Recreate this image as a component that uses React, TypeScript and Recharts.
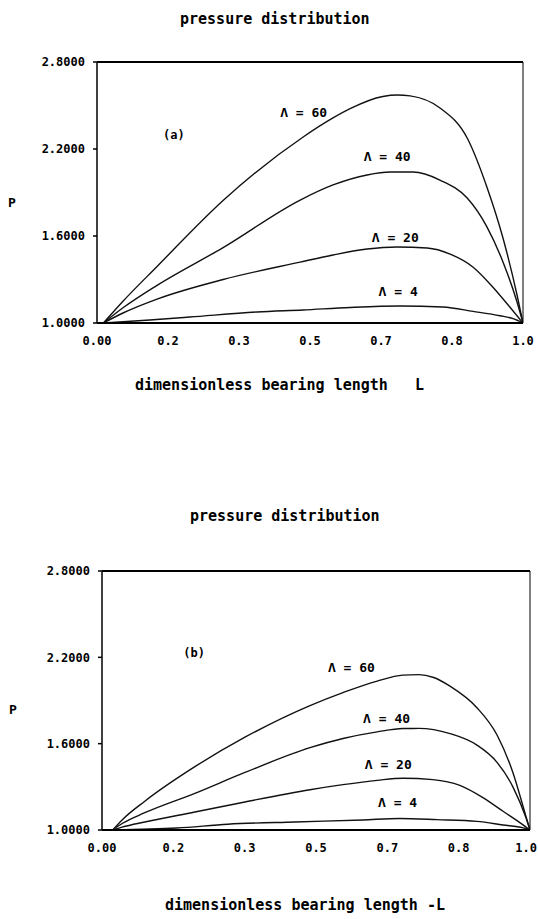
import React from 'react';
import { LineChart, Line, XAxis, YAxis, ReferenceLine, ReferenceDot } from 'recharts';

// bearing length positions (1/6 steps) and the printed tick labels
const xTicks = [0, 0.1667, 0.3333, 0.5, 0.6667, 0.8333, 1];
const xTickLabels = ['0.00', '0.2', '0.3', '0.5', '0.7', '0.8', '1.0'];
const yTicks = [1.0, 1.6, 2.2, 2.8];

// panel (a)
const lambda60A = [
  { L: 0.015, P: 1.0 }, { L: 0.061, P: 1.15 }, { L: 0.141, P: 1.39 }, { L: 0.296, P: 1.845 },
  { L: 0.484, P: 2.283 }, { L: 0.554, P: 2.414 }, { L: 0.594, P: 2.478 }, { L: 0.671, P: 2.562 },
  { L: 0.705, P: 2.572 }, { L: 0.735, P: 2.566 }, { L: 0.805, P: 2.483 }, { L: 0.869, P: 2.276 },
  { L: 0.915, P: 1.94 }, { L: 0.953, P: 1.586 }, { L: 0.986, P: 1.193 }, { L: 1.0, P: 1.0 },
];
const lambda40A = [
  { L: 0.015, P: 1.0 }, { L: 0.061, P: 1.105 }, { L: 0.141, P: 1.26 }, { L: 0.296, P: 1.52 },
  { L: 0.477, P: 1.848 }, { L: 0.554, P: 1.952 }, { L: 0.634, P: 2.021 }, { L: 0.688, P: 2.041 },
  { L: 0.742, P: 2.041 }, { L: 0.805, P: 1.986 }, { L: 0.869, P: 1.862 }, { L: 0.915, P: 1.665 },
  { L: 0.953, P: 1.421 }, { L: 0.986, P: 1.145 }, { L: 1.0, P: 1.0 },
];
const lambda20A = [
  { L: 0.015, P: 1.0 }, { L: 0.061, P: 1.069 }, { L: 0.141, P: 1.165 }, { L: 0.296, P: 1.3 },
  { L: 0.477, P: 1.42 }, { L: 0.554, P: 1.469 }, { L: 0.634, P: 1.51 }, { L: 0.704, P: 1.524 },
  { L: 0.775, P: 1.517 }, { L: 0.829, P: 1.475 }, { L: 0.883, P: 1.385 }, { L: 0.93, P: 1.245 },
  { L: 0.969, P: 1.11 }, { L: 1.0, P: 1.0 },
];
const lambda4A = [
  { L: 0.015, P: 1.0 }, { L: 0.124, P: 1.021 }, { L: 0.218, P: 1.041 }, { L: 0.376, P: 1.076 },
  { L: 0.484, P: 1.09 }, { L: 0.594, P: 1.107 }, { L: 0.711, P: 1.117 }, { L: 0.812, P: 1.11 },
  { L: 0.883, P: 1.08 }, { L: 0.946, P: 1.05 }, { L: 0.977, P: 1.03 }, { L: 1.0, P: 1.0 },
];
const tagsA = [
  { L: 0.43, P: 2.455, text: 'Λ = 60' },
  { L: 0.626, P: 2.145, text: 'Λ = 40' },
  { L: 0.645, P: 1.593, text: 'Λ = 20' },
  { L: 0.661, P: 1.214, text: 'Λ = 4' },
  { L: 0.155, P: 2.297, text: '(a)' },
];

// panel (b)
const lambda60B = [
  { L: 0.025, P: 1.0 }, { L: 0.047, P: 1.07 }, { L: 0.1, P: 1.2 }, { L: 0.217, P: 1.44 },
  { L: 0.334, P: 1.645 }, { L: 0.486, P: 1.865 }, { L: 0.563, P: 1.955 }, { L: 0.643, P: 2.035 },
  { L: 0.703, P: 2.076 }, { L: 0.74, P: 2.08 }, { L: 0.775, P: 2.06 }, { L: 0.813, P: 2.0 },
  { L: 0.876, P: 1.85 }, { L: 0.923, P: 1.66 }, { L: 0.96, P: 1.4 }, { L: 0.99, P: 1.1 },
  { L: 1.0, P: 1.0 },
];
const lambda40B = [
  { L: 0.025, P: 1.0 }, { L: 0.047, P: 1.045 }, { L: 0.1, P: 1.12 }, { L: 0.217, P: 1.255 },
  { L: 0.334, P: 1.4 }, { L: 0.486, P: 1.572 }, { L: 0.563, P: 1.636 }, { L: 0.643, P: 1.682 },
  { L: 0.703, P: 1.705 }, { L: 0.74, P: 1.706 }, { L: 0.813, P: 1.67 }, { L: 0.876, P: 1.59 },
  { L: 0.923, P: 1.47 }, { L: 0.96, P: 1.3 }, { L: 0.99, P: 1.09 }, { L: 1.0, P: 1.0 },
];
const lambda20B = [
  { L: 0.025, P: 1.0 }, { L: 0.047, P: 1.02 }, { L: 0.1, P: 1.056 }, { L: 0.217, P: 1.125 },
  { L: 0.334, P: 1.195 }, { L: 0.486, P: 1.28 }, { L: 0.563, P: 1.315 }, { L: 0.643, P: 1.345 },
  { L: 0.703, P: 1.36 }, { L: 0.773, P: 1.35 }, { L: 0.836, P: 1.31 }, { L: 0.89, P: 1.225 },
  { L: 0.937, P: 1.13 }, { L: 0.977, P: 1.05 }, { L: 1.0, P: 1.0 },
];
const lambda4B = [
  { L: 0.025, P: 1.0 }, { L: 0.175, P: 1.014 }, { L: 0.294, P: 1.04 }, { L: 0.451, P: 1.056 },
  { L: 0.61, P: 1.07 }, { L: 0.696, P: 1.08 }, { L: 0.783, P: 1.072 }, { L: 0.876, P: 1.06 },
  { L: 0.937, P: 1.035 }, { L: 0.984, P: 1.015 }, { L: 1.0, P: 1.0 },
];
const tagsB = [
  { L: 0.528, P: 2.126, text: 'Λ = 60' },
  { L: 0.61, P: 1.778, text: 'Λ = 40' },
  { L: 0.614, P: 1.452, text: 'Λ = 20' },
  { L: 0.645, P: 1.188, text: 'Λ = 4' },
  { L: 0.19, P: 2.23, text: '(b)' },
];

const mono = '"DejaVu Sans Mono", monospace';
const tickStyle = { fontFamily: mono, fontSize: 12, fontWeight: 'bold' as const, fill: '#000' };

type Pt = { L: number; P: number };
type Tag = Pt & { text: string };

// x tick label; the last one is kept inside the page edge
const XTick = (props: any) => {
  const { x, y, payload } = props;
  const label = xTickLabels[xTicks.indexOf(payload.value)];
  const anchor = x > 527 ? 'end' : 'middle';
  return (
    <text x={anchor === 'end' ? 537 : x} y={y + 22} textAnchor={anchor} {...tickStyle}>
      {label}
    </text>
  );
};

interface PanelProps {
  series: Pt[][];
  tags: Tag[];
  height: number;
  yAxisWidth: number;
  margin: { top: number; right: number; bottom: number; left: number };
}

const Panel: React.FC<PanelProps> = ({ series, tags, height, yAxisWidth, margin }) => (
  <LineChart width={538} height={height} margin={margin}>
    <XAxis
      dataKey="L"
      type="number"
      domain={[0, 1]}
      ticks={xTicks}
      tickLine={false}
      tickMargin={0}
      tickSize={0}
      height={30}
      axisLine={{ stroke: '#000', strokeWidth: 2 }}
      tick={<XTick />}
      interval={0}
      allowDataOverflow
    />
    <YAxis
      type="number"
      domain={[1, 2.8]}
      ticks={yTicks}
      tickFormatter={(v: number) => v.toFixed(4)}
      width={yAxisWidth}
      tickSize={4}
      tickMargin={8}
      tickLine={{ stroke: '#000', strokeWidth: 1.5 }}
      axisLine={{ stroke: '#000', strokeWidth: 1.5 }}
      tick={tickStyle}
      interval={0}
    />
    <ReferenceLine y={2.8} stroke="#000" strokeWidth={2} />
    <ReferenceLine x={1} stroke="#000" strokeWidth={1} />
    {series.map((d, i) => (
      <Line
        key={i}
        data={d}
        dataKey="P"
        type="monotone"
        stroke="#111"
        strokeWidth={1.4}
        dot={false}
        isAnimationActive={false}
      />
    ))}
    {tags.map((t) => (
      <ReferenceDot
        key={t.text}
        x={t.L}
        y={t.P}
        r={0}
        shape={(p: any) => (
          <text
            x={p.cx}
            y={p.cy}
            dominantBaseline="central"
            fontFamily={mono}
            fontSize={t.text.startsWith('(') ? 12 : 13}
            fontWeight="bold"
            fill="#000"
          >
            {t.text}
          </text>
        )}
      />
    ))}
  </LineChart>
);

const textStyle: React.CSSProperties = {
  position: 'absolute',
  fontFamily: mono,
  fontWeight: 'bold',
  fontSize: 15,
  lineHeight: '16px',
  whiteSpace: 'pre',
  color: '#000',
};

export default function App() {
  return (
    <div style={{ position: 'relative', width: 538, height: 919, background: '#fff', overflow: 'hidden' }}>
      <style>{'body{margin:0}'}</style>

      <div style={{ ...textStyle, left: 180, top: 11 }}>pressure distribution</div>
      <div style={{ ...textStyle, left: 8, top: 195, fontSize: 13 }}>P</div>
      <div style={{ position: 'absolute', left: 0, top: 0 }}>
        <Panel
          series={[lambda60A, lambda40A, lambda20A, lambda4A]}
          tags={tagsA}
          height={440}
          yAxisWidth={97}
          margin={{ top: 62, right: 15, bottom: 87, left: 0 }}
        />
      </div>
      <div style={{ ...textStyle, left: 135, top: 377 }}>dimensionless bearing length   L</div>

      <div style={{ ...textStyle, left: 190, top: 508 }}>pressure distribution</div>
      <div style={{ ...textStyle, left: 9, top: 702, fontSize: 13 }}>P</div>
      <div style={{ position: 'absolute', left: 0, top: 500 }}>
        <Panel
          series={[lambda60B, lambda40B, lambda20B, lambda4B]}
          tags={tagsB}
          height={419}
          yAxisWidth={102}
          margin={{ top: 71, right: 8, bottom: 59, left: 0 }}
        />
      </div>
      <div style={{ ...textStyle, left: 165, top: 897 }}>dimensionless bearing length -L</div>
    </div>
  );
}
